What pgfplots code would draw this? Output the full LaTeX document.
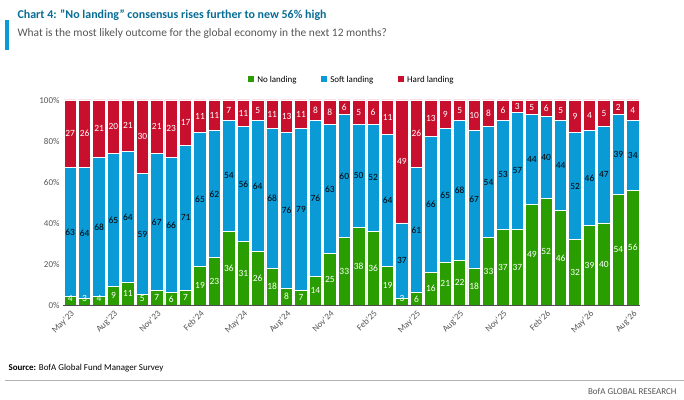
\documentclass[border=0pt]{standalone}
\usepackage{pgfplots}
\pgfplotsset{compat=1.18}
\usepackage{pgfplotstable}
\usepackage{fontspec}
\setmainfont{Carlito}
\definecolor{cg}{HTML}{2A9D00}
\definecolor{cb}{HTML}{0A9BD7}
\definecolor{cr}{HTML}{C8102E}
\definecolor{tx}{HTML}{555555}
\pgfplotstableread{
i g b r
0 4 63 27
1 3 64 26
2 4 68 21
3 9 65 20
4 11 64 21
5 5 59 30
6 7 67 21
7 6 66 23
8 7 71 17
9 19 65 11
10 23 62 11
11 36 54 7
12 31 56 11
13 26 64 5
14 18 68 11
15 8 76 13
16 7 79 11
17 14 76 8
18 25 63 8
19 33 60 6
20 38 50 5
21 36 52 6
22 19 64 11
23 3 37 49
24 6 61 26
25 16 66 13
26 21 65 9
27 22 68 5
28 18 67 10
29 33 54 8
30 37 53 6
31 37 57 3
32 49 44 5
33 52 40 6
34 46 44 5
35 32 52 9
36 39 46 4
37 40 47 5
38 54 39 2
39 56 34 4
}\data
\begin{document}
\begin{tikzpicture}
\useasboundingbox (0,0) rectangle (684bp,400bp);
\fill[cb] (5bp,350bp) rectangle (9bp,380bp);
\node[anchor=base west,font=\bfseries\fontsize{12}{14}\selectfont,text=cb!70!black] at (14bp,381bp) {Chart 4: "No landing" consensus rises further to new 56\% high};
\node[anchor=base west,font=\fontsize{11.5}{14}\selectfont,text=tx] at (14bp,363bp) {What is the most likely outcome for the global economy in the next 12 months?};
\begin{axis}[at={(63bp,95bp)},anchor=south west,scale only axis,width=577bp,height=205bp,
  ybar stacked, bar width=0.86, xmin=-0.5,xmax=39.5, ymin=0,ymax=100,
  axis lines*=left, axis line style={draw=none},
  ytick={0,20,...,100}, yticklabel={\pgfmathprintnumber{\tick}\%},
  yticklabel style={font=\fontsize{9}{10}\selectfont,text=tx},
  xtick={0,3,...,39},
  xticklabels={May'23,Aug'23,Nov'23,Feb'24,May'24,Aug'24,Nov'24,Feb'25,May'25,Aug'25,Nov'25,Feb'26,May'26,Aug'26},
  xticklabel style={rotate=45,anchor=north east,font=\fontsize{9}{10}\selectfont,text=tx},
  major tick length=0pt,
  /pgf/number format/assume math mode=true,
  legend style={at={(0.5,1.06)},anchor=south,draw=none,legend columns=3,font=\fontsize{9}{10}\selectfont,/tikz/every even column/.append style={column sep=22pt}},
  legend image code/.code={\fill[#1] (0,-3bp) rectangle (7bp,4bp);},
  clip=false]
\addplot[fill=cg,draw=white,line width=0.8pt] table[x=i,y=g]{\data};
\addplot[fill=cb,draw=white,line width=0.8pt] table[x=i,y=b]{\data};
\addplot[fill=cr,draw=white,line width=0.8pt] table[x=i,y expr=100-\thisrow{g}-\thisrow{b}]{\data};
\legend{No landing,Soft landing,Hard landing}
\end{axis}
\begin{axis}[at={(63bp,95bp)},anchor=south west,scale only axis,width=577bp,height=205bp,
  xmin=-0.5,xmax=39.5, ymin=0,ymax=100, axis lines=none,
  nodes near coords, point meta=explicit symbolic,
  every node near coord/.append style={anchor=center,font=\fontsize{9.5}{10}\selectfont,inner sep=0pt},
  clip=false]
\addplot[only marks,mark=none,nodes near coords style={text=white}] table[x=i,y expr={max(\thisrow{g}/2,3)},meta=g]{\data};
\addplot[only marks,mark=none,nodes near coords style={text=black}] table[x=i,y expr={\thisrow{g}+\thisrow{b}/2},meta=b]{\data};
\addplot[only marks,mark=none,nodes near coords style={text=white}] table[x=i,y expr={100-(100-\thisrow{g}-\thisrow{b})/2},meta=r]{\data};
\end{axis}
\draw[black!70,line width=0.8pt] (63bp,95bp) -- (640bp,95bp);
\node[anchor=base west,font=\fontsize{9}{10}\selectfont] at (5bp,30bp) {\textbf{Source:} BofA Global Fund Manager Survey};
\draw[black!30] (5bp,20bp) -- (684bp,20bp);
\node[anchor=base east,font=\fontsize{9}{10}\selectfont,text=tx] at (680bp,6bp) {BofA GLOBAL RESEARCH};
\end{tikzpicture}
\end{document}
